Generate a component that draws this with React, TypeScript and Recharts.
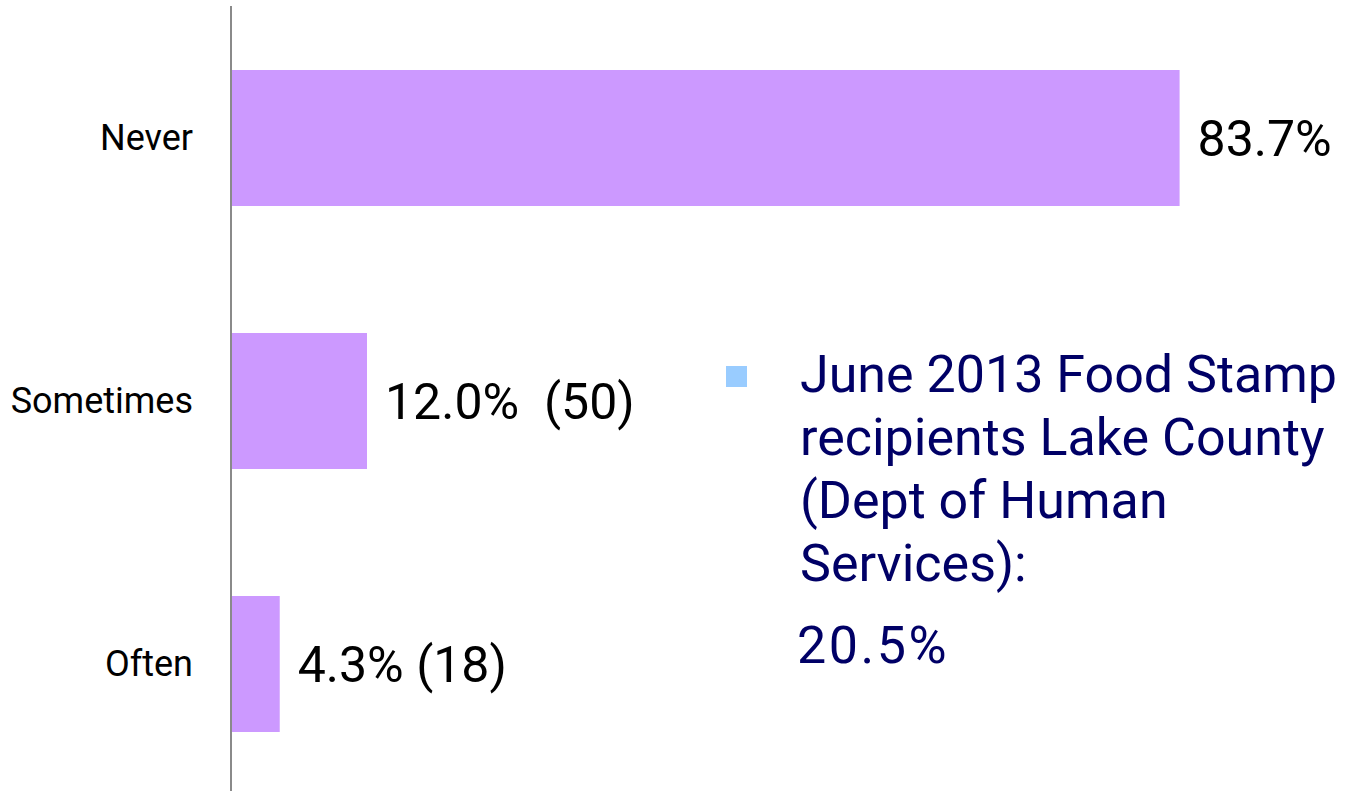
import React from "react";
import { BarChart, Bar, XAxis, YAxis, LabelList, Legend } from "recharts";

const BAR = "#cc99ff";
const NAVY = "#000066";
const SQUARE = "#99ccff";
const AXIS = "#8a8a8a";
const FONT = "Roboto, 'Liberation Sans', sans-serif";

const categories = ["Never", "Sometimes", "Often"];
const percents = [83.7, 12.0, 4.3];
const counts: (number | null)[] = [null, 50, 18];

const noteLines = ["June 2013 Food Stamp", "recipients Lake County", "(Dept of Human", "Services):"];
const noteValue = "20.5%";

const data = categories.map((name, i) => ({
  name,
  pct: percents[i],
  label:
    counts[i] == null
      ? `${percents[i].toFixed(1)}%`
      : `${percents[i].toFixed(1)}%${i === 1 ? "\u00a0 " : " "}(${counts[i]})`,
}));

function Note() {
  return (
    <div style={{ fontFamily: FONT, color: NAVY, fontSize: 52, lineHeight: "63px", whiteSpace: "nowrap" }}>
      <div style={{ display: "flex", alignItems: "flex-start" }}>
        <span style={{ width: 21, height: 21, background: SQUARE, marginTop: 23, marginRight: 53, flex: "none" }} />
        <div>
          {noteLines.map((l) => (
            <div key={l}>{l}</div>
          ))}
          <div style={{ marginTop: 19, marginLeft: -3, letterSpacing: 2.5 }}>{noteValue}</div>
        </div>
      </div>
    </div>
  );
}

export default function App() {
  return (
    <div style={{ position: "absolute", left: 0, top: 0, width: 1345, height: 791, overflow: "hidden", background: "#fff" }}>
      <BarChart
        width={1345}
        height={796}
        data={data}
        layout="vertical"
        margin={{ top: 6, right: 94, bottom: 1, left: 0 }}
      >
        <XAxis type="number" domain={[0, 90]} hide />
        <YAxis
          type="category"
          dataKey="name"
          width={231}
          axisLine={{ stroke: AXIS, strokeWidth: 2 }}
          tickLine={false}
          tickSize={36}
          tickMargin={2}
          tick={{ fill: "#000", fontSize: 36, fontFamily: FONT }}
        />
        <Legend
          layout="vertical"
          align="center"
          verticalAlign="middle"
          content={() => <Note />}
          wrapperStyle={{ left: 726, top: 343, width: 620 }}
        />
        <Bar dataKey="pct" fill={BAR} barSize={136} isAnimationActive={false}>
          <LabelList
            dataKey="label"
            position="right"
            offset={18}
            fill="#000"
            style={{ fontSize: 50, fontFamily: FONT }}
          />
        </Bar>
      </BarChart>
    </div>
  );
}
